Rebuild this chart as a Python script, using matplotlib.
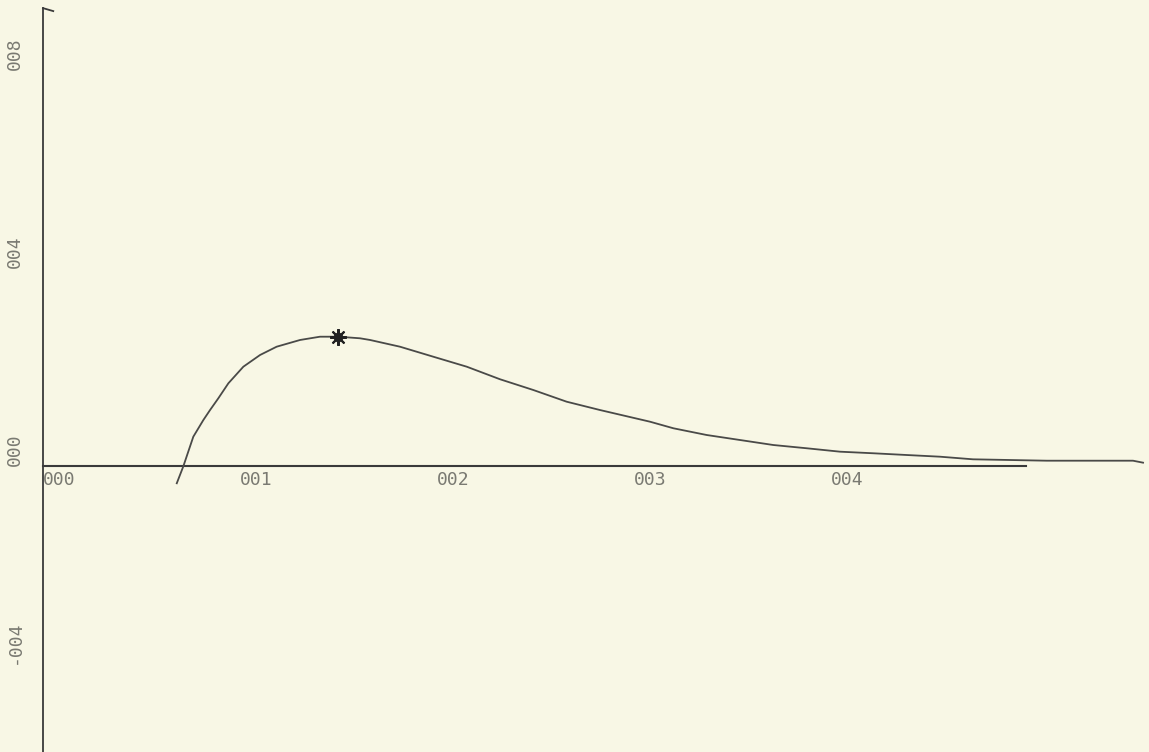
import numpy as np
import matplotlib.pyplot as plt

# curve
x_vals = [0.00679, 0.00712, 0.00763, 0.00814, 0.00848, 0.00890, 0.00941, 0.01017,
          0.01102, 0.01186, 0.01305, 0.01406, 0.01499, 0.01609, 0.01660, 0.01812,
          0.01981, 0.02151, 0.02320, 0.02489, 0.02658, 0.02827, 0.03081, 0.03200,
          0.03369, 0.03538, 0.03707, 0.03877, 0.04046, 0.04215, 0.04384, 0.04553,
          0.04721, 0.05095, 0.05533, 0.05584]
y_vals = [-0.00339, 0.00000, 0.00602, 0.00939, 0.01141, 0.01378, 0.01681, 0.02016,
          0.02253, 0.02420, 0.02556, 0.02622, 0.02622, 0.02590, 0.02556, 0.02420,
          0.02218, 0.02016, 0.01762, 0.01545, 0.01309, 0.01141, 0.00905, 0.00772,
          0.00636, 0.00535, 0.00434, 0.00368, 0.00299, 0.00267, 0.00232, 0.00198,
          0.00145, 0.00117, 0.00117, 0.00077]

# marked maximum
peak_x = 0.01499
peak_y = 0.02622

x_ticks = [0.00, 0.01, 0.02, 0.03, 0.04]
x_labels = ["000", "001", "002", "003", "004"]
y_ticks = [0.08, 0.04, 0.00, -0.04]
y_labels = ["008", "004", "000", "-004"]

x_axis_end = 0.0499
y_axis_top = 0.0926
y_axis_bottom = -0.0577

paper = "#f8f7e5"
ink = "#3a3a3a"


def main():
    fig = plt.figure(figsize=(11.49, 7.52), dpi=100, facecolor=paper)
    ax = fig.add_axes([0, 0, 1, 1])
    ax.set_facecolor(paper)
    ax.set_xlim(-0.002183, 0.056142)
    ax.set_ylim(-0.05768, 0.094242)
    ax.axis("off")

    # axes drawn by hand like the old plotter
    ax.plot([0, 0], [y_axis_bottom, y_axis_top], color=ink, lw=1.3)
    ax.plot([0, 0.00052], [y_axis_top, y_axis_top - 0.0006], color=ink, lw=1.3)
    ax.plot([0, x_axis_end], [0, 0], color=ink, lw=1.5)

    for t, lab in zip(x_ticks, x_labels):
        ax.annotate(lab, xy=(t, 0), xytext=(0, -5), textcoords="offset pixels",
                    ha="left", va="top", fontsize=13, color="#7a7a72",
                    family="DejaVu Sans Mono")
    for t, lab in zip(y_ticks, y_labels):
        ax.annotate(lab, xy=(0, t), xytext=(-28, 0), textcoords="offset pixels",
                    ha="center", va="bottom", rotation=90, fontsize=13,
                    color="#7a7a72", family="DejaVu Sans Mono")

    ax.plot(x_vals, y_vals, color="#4a4a48", lw=1.3)
    ax.plot(peak_x, peak_y, marker=(8, 2, 0), markersize=12, color="#222222", mew=1.5)
    ax.plot(peak_x, peak_y, marker="o", markersize=6, color="#222222")

    fig.savefig("out.png", dpi=100, facecolor=paper)


if __name__ == "__main__":
    main()
